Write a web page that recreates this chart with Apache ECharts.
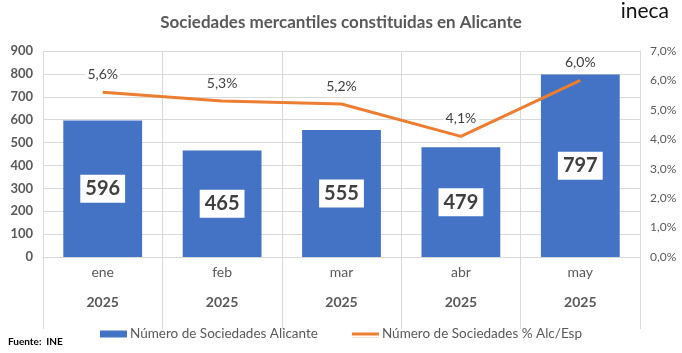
<!DOCTYPE html>
<html>
<head>
<meta charset="utf-8">
<script src="https://cdn.jsdelivr.net/npm/echarts@6/dist/echarts.min.js"></script>
<style>
  html, body { margin: 0; padding: 0; background: #fff; }
  #main { width: 682px; height: 353px; }
</style>
</head>
<body>
<div id="main"></div>
<script>
// datos del gráfico
const months = ['ene', 'feb', 'mar', 'abr', 'may']
const years = ['2025', '2025', '2025', '2025', '2025']
const sociedades = [596, 465, 555, 479, 797]
const pctAlcEsp = [5.6, 5.3, 5.2, 4.1, 6.0]
const leftTicks = [0, 900, 100]
const rightTicks = [0, 7, 1]

const FONT = 'Lato, "Open Sans", sans-serif'
const pct = v => v.toFixed(1).replace('.', ',') + '%'

// icono de línea fina para la leyenda (bordes casi invisibles para fijar la caja)
const lineIcon = 'path://M0,0h28v0.01h-28z M0,2h28v3h-28z M0,6.99h28v0.01h-28z'

const chart = echarts.init(document.getElementById('main'))

chart.setOption({
  backgroundColor: '#fff',
  textStyle: { fontFamily: FONT },
  title: {
    text: 'Sociedades mercantiles constituidas en Alicante',
    left: 'center',
    top: 9,
    textStyle: { fontFamily: FONT, fontSize: 17, fontWeight: 'bold', color: '#595959' }
  },
  graphic: [
    {
      type: 'text', right: 13, top: 1,
      style: { text: 'ineca', fontFamily: FONT, fontSize: 21, fill: '#111' }
    },
    {
      type: 'text', left: 8, top: 337,
      style: { text: 'Fuente:  INE', fontFamily: FONT, fontSize: 10, fontWeight: 'bold', fill: '#000' }
    }
  ],
  legend: {
    top: 322,
    left: 'center',
    itemGap: 34,
    itemWidth: 27,
    itemHeight: 7,
    textStyle: { fontFamily: FONT, fontSize: 13.5, color: '#595959', padding: [0, 0, 0, -2] },
    data: [
      { name: 'Número de Sociedades Alicante', icon: 'rect', itemStyle: { color: '#4472C4' } },
      { name: 'Número de Sociedades % Alc/Esp', icon: lineIcon, itemStyle: { color: '#ED7D31' } }
    ]
  },
  grid: { left: 43, right: 42, top: 51, bottom: 96 },
  xAxis: {
    type: 'category',
    data: months,
    boundaryGap: true,
    axisLine: { lineStyle: { color: '#d9d9d9' } },
    axisTick: { show: true, length: 72, interval: 0, lineStyle: { color: '#d9d9d9' } },
    splitLine: { show: true, interval: 0, lineStyle: { color: '#d9d9d9' } },
    axisLabel: {
      margin: 0,
      interval: 0,
      formatter: (v, i) => '{m|' + v + '}\n{y|' + years[i] + '}',
      rich: {
        m: { fontFamily: FONT, fontSize: 14, color: '#595959', lineHeight: 30 },
        y: { fontFamily: FONT, fontSize: 14, fontWeight: 'bold', color: '#595959', lineHeight: 30 }
      }
    }
  },
  yAxis: [
    {
      type: 'value',
      min: leftTicks[0], max: leftTicks[1], interval: leftTicks[2],
      axisLine: { show: false },
      axisTick: { show: false },
      splitLine: { lineStyle: { color: '#d9d9d9' } },
      axisLabel: { fontFamily: FONT, fontSize: 13, fontWeight: 'bold', color: '#595959', margin: 10 }
    },
    {
      type: 'value',
      min: rightTicks[0], max: rightTicks[1], interval: rightTicks[2],
      axisLine: { show: true, lineStyle: { color: '#d9d9d9' } },
      axisTick: { show: false },
      splitLine: { show: false },
      axisLabel: { fontFamily: FONT, fontSize: 12, color: '#595959', margin: 10, formatter: v => pct(v) }
    }
  ],
  series: [
    {
      name: 'Número de Sociedades Alicante',
      type: 'bar',
      data: sociedades,
      barCategoryGap: '34%',
      itemStyle: { color: '#4472C4' },
      label: {
        show: true,
        position: 'inside',
        fontFamily: FONT,
        fontSize: 20,
        fontWeight: 'bold',
        color: '#404040',
        backgroundColor: '#fff',
        padding: [5, 5, 3, 5]
      }
    },
    {
      name: 'Número de Sociedades % Alc/Esp',
      type: 'line',
      yAxisIndex: 1,
      data: pctAlcEsp,
      symbol: 'circle',
      symbolSize: 1,
      showSymbol: true,
      lineStyle: { color: '#ED7D31', width: 3 },
      itemStyle: { color: 'rgba(237,125,49,0)' },
      label: {
        show: true,
        position: 'top',
        distance: 9,
        fontFamily: FONT,
        fontSize: 14,
        color: '#404040',
        backgroundColor: '#fff',
        padding: [1, 2],
        formatter: p => pct(p.value)
      },
      z: 3
    }
  ],
  animation: false
})
</script>
</body>
</html>
